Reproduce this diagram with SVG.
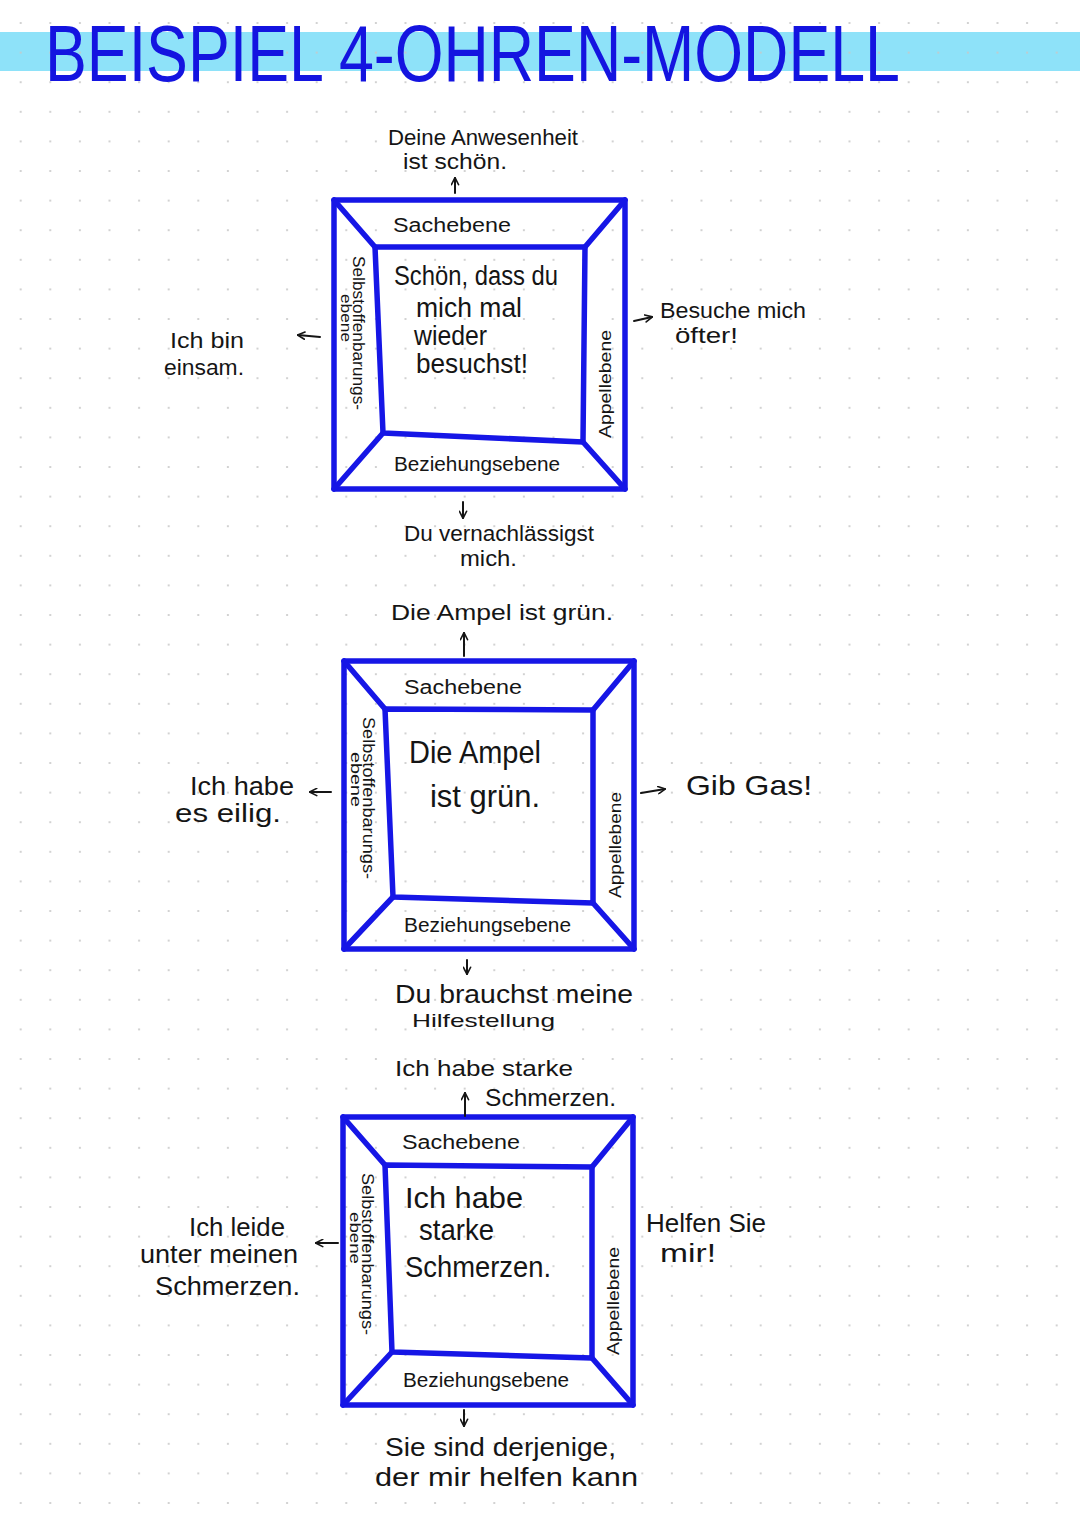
<svg xmlns="http://www.w3.org/2000/svg" width="1080" height="1525" viewBox="0 0 1080 1525">
  <style>
    .t { font-family: "Liberation Sans", Arial, sans-serif; fill: #151515; }
    .lvl { font-size: 20px; }
    .side { font-size: 16px; }
    .side2 { font-size: 14px; }
    .mid { font-size: 27px; }
    .note { font-size: 22px; }
    .frame { fill: none; stroke: #1616e6; stroke-width: 5.5; stroke-linejoin: round; stroke-linecap: round; }
    .conn { fill: none; stroke: #151515; stroke-width: 2; stroke-linecap: round; }
  </style>
  <defs>
    <pattern id="dots" patternUnits="userSpaceOnUse" x="5.9" y="8.2" width="29.6" height="29.6">
      <circle cx="14.8" cy="14.8" r="1.1" fill="#c8c8c8"/>
    </pattern>
    <marker id="arr" viewBox="0 0 10 10" refX="8.5" refY="5" markerWidth="9" markerHeight="9" markerUnits="userSpaceOnUse" orient="auto">
      <path d="M1,1 L9,5 L1,9" fill="none" stroke="#151515" stroke-width="1.8" stroke-linecap="round" stroke-linejoin="round"/>
    </marker>
  </defs>

  <rect x="0" y="0" width="1080" height="1525" fill="#ffffff"/>
  <rect x="0" y="32" width="1080" height="39" fill="#8ee2f9"/>
  <rect x="0" y="0" width="1080" height="1525" fill="url(#dots)"/>

  <g id="title">
    <text x="45" y="81" font-family="Liberation Sans, Arial, sans-serif" font-size="80" fill="#1414e0" textLength="855" lengthAdjust="spacingAndGlyphs">BEISPIEL 4-OHREN-MODELL</text>
  </g>

  <!-- Box 1 -->
  <g id="box1">
    <rect class="frame" x="334" y="200" width="291" height="289"/>
    <path class="frame" d="M375,247 L585,247 L583,442 L383,433 Z"/>
    <path class="frame" d="M334,200 L375,247 M625,200 L585,247 M625,489 L583,442 M334,489 L383,433"/>
    <text class="t lvl" x="393" y="232" textLength="118" lengthAdjust="spacingAndGlyphs">Sachebene</text>
    <text class="t lvl" x="394" y="471" textLength="166" lengthAdjust="spacingAndGlyphs">Beziehungsebene</text>
    <text class="t side" transform="translate(353,256) rotate(90)" textLength="154" lengthAdjust="spacingAndGlyphs">Selbstoffenbarungs-</text>
    <text class="t side2" transform="translate(341,294) rotate(90)" textLength="48" lengthAdjust="spacingAndGlyphs">ebene</text>
    <text class="t side" transform="translate(611,438) rotate(-90)" textLength="108" lengthAdjust="spacingAndGlyphs">Appellebene</text>
    <text class="t mid" x="394" y="285" textLength="164" lengthAdjust="spacingAndGlyphs">Schön, dass du</text>
    <text class="t mid" x="416" y="317" textLength="106" lengthAdjust="spacingAndGlyphs">mich mal</text>
    <text class="t mid" x="414" y="345" textLength="73" lengthAdjust="spacingAndGlyphs">wieder</text>
    <text class="t mid" x="416" y="373" textLength="112" lengthAdjust="spacingAndGlyphs">besuchst!</text>
  </g>
  <g id="box1-top">
    <text class="t note" x="388" y="145" textLength="190" lengthAdjust="spacingAndGlyphs">Deine Anwesenheit</text>
    <text class="t note" x="403" y="169" textLength="104" lengthAdjust="spacingAndGlyphs">ist schön.</text>
  </g>
  <g id="box1-left">
    <text class="t note" x="170" y="348" textLength="74" lengthAdjust="spacingAndGlyphs">Ich bin</text>
    <text class="t note" x="164" y="375" textLength="80" lengthAdjust="spacingAndGlyphs">einsam.</text>
  </g>
  <g id="box1-right">
    <text class="t note" x="660" y="318" textLength="146" lengthAdjust="spacingAndGlyphs">Besuche mich</text>
    <text class="t note" x="675" y="343" textLength="63" lengthAdjust="spacingAndGlyphs">öfter!</text>
  </g>
  <g id="box1-bottom">
    <text class="t note" x="404" y="541" textLength="190" lengthAdjust="spacingAndGlyphs">Du vernachlässigst</text>
    <text class="t note" x="460" y="566" textLength="57" lengthAdjust="spacingAndGlyphs">mich.</text>
  </g>

  <!-- Box 2 -->
  <g id="box2">
    <rect class="frame" x="344" y="661" width="290" height="288"/>
    <path class="frame" d="M385,709 L593,710 L593,903 L393,897 Z"/>
    <path class="frame" d="M344,661 L385,709 M634,661 L593,710 M634,949 L593,903 M344,949 L393,897"/>
    <text class="t lvl" x="404" y="694" textLength="118" lengthAdjust="spacingAndGlyphs">Sachebene</text>
    <text class="t lvl" x="404" y="932" textLength="167" lengthAdjust="spacingAndGlyphs">Beziehungsebene</text>
    <text class="t side" transform="translate(363,717) rotate(90)" textLength="162" lengthAdjust="spacingAndGlyphs">Selbstoffenbarungs-</text>
    <text class="t side2" transform="translate(351,752) rotate(90)" textLength="55" lengthAdjust="spacingAndGlyphs">ebene</text>
    <text class="t side" transform="translate(621,898) rotate(-90)" textLength="106" lengthAdjust="spacingAndGlyphs">Appellebene</text>
    <text class="t" x="409" y="763" font-size="32" textLength="132" lengthAdjust="spacingAndGlyphs">Die Ampel</text>
    <text class="t" x="430" y="807" font-size="32" textLength="110" lengthAdjust="spacingAndGlyphs">ist grün.</text>
  </g>
  <g id="box2-top">
    <text class="t note" x="391" y="620" textLength="222" lengthAdjust="spacingAndGlyphs">Die Ampel ist grün.</text>
  </g>
  <g id="box2-left">
    <text class="t" x="190" y="795" font-size="25" textLength="104" lengthAdjust="spacingAndGlyphs">Ich habe</text>
    <text class="t" x="175" y="822" font-size="25" textLength="106" lengthAdjust="spacingAndGlyphs">es eilig.</text>
  </g>
  <g id="box2-right">
    <text class="t" x="686" y="795" font-size="28" textLength="126" lengthAdjust="spacingAndGlyphs">Gib Gas!</text>
  </g>
  <g id="box2-bottom">
    <text class="t" x="395" y="1003" font-size="25" textLength="238" lengthAdjust="spacingAndGlyphs">Du brauchst meine</text>
    <text class="t" x="412" y="1027" font-size="19" textLength="143" lengthAdjust="spacingAndGlyphs">Hilfestellung</text>
  </g>

  <!-- Box 3 -->
  <g id="box3">
    <rect class="frame" x="343" y="1117" width="290" height="288"/>
    <path class="frame" d="M385,1165 L592,1167 L592,1358 L392,1352 Z"/>
    <path class="frame" d="M343,1117 L385,1165 M633,1117 L592,1167 M633,1405 L592,1358 M343,1405 L392,1352"/>
    <text class="t lvl" x="402" y="1149" textLength="118" lengthAdjust="spacingAndGlyphs">Sachebene</text>
    <text class="t lvl" x="403" y="1387" textLength="166" lengthAdjust="spacingAndGlyphs">Beziehungsebene</text>
    <text class="t side" transform="translate(362,1173) rotate(90)" textLength="162" lengthAdjust="spacingAndGlyphs">Selbstoffenbarungs-</text>
    <text class="t side2" transform="translate(350,1212) rotate(90)" textLength="52" lengthAdjust="spacingAndGlyphs">ebene</text>
    <text class="t side" transform="translate(619,1355) rotate(-90)" textLength="108" lengthAdjust="spacingAndGlyphs">Appellebene</text>
    <text class="t" x="405" y="1208" font-size="30" textLength="118" lengthAdjust="spacingAndGlyphs">Ich habe</text>
    <text class="t" x="419" y="1240" font-size="30" textLength="75" lengthAdjust="spacingAndGlyphs">starke</text>
    <text class="t" x="405" y="1277" font-size="30" textLength="146" lengthAdjust="spacingAndGlyphs">Schmerzen.</text>
  </g>
  <g id="box3-top">
    <text class="t note" x="395" y="1076" textLength="178" lengthAdjust="spacingAndGlyphs">Ich habe starke</text>
    <text class="t" x="485" y="1106" font-size="24" textLength="131" lengthAdjust="spacingAndGlyphs">Schmerzen.</text>
  </g>
  <g id="box3-left">
    <text class="t" x="189" y="1236" font-size="25" textLength="96" lengthAdjust="spacingAndGlyphs">Ich leide</text>
    <text class="t" x="140" y="1263" font-size="25" textLength="158" lengthAdjust="spacingAndGlyphs">unter meinen</text>
    <text class="t" x="155" y="1295" font-size="25" textLength="145" lengthAdjust="spacingAndGlyphs">Schmerzen.</text>
  </g>
  <g id="box3-right">
    <text class="t" x="646" y="1232" font-size="26" textLength="120" lengthAdjust="spacingAndGlyphs">Helfen Sie</text>
    <text class="t" x="660" y="1262" font-size="26" textLength="56" lengthAdjust="spacingAndGlyphs">mir!</text>
  </g>
  <g id="box3-bottom">
    <text class="t" x="385" y="1456" font-size="25" textLength="231" lengthAdjust="spacingAndGlyphs">Sie sind derjenige,</text>
    <text class="t" x="375" y="1486" font-size="25" textLength="263" lengthAdjust="spacingAndGlyphs">der mir helfen kann</text>
  </g>

  <g id="connectors">
    <path class="conn" d="M455,193 L455,178" marker-end="url(#arr)"/>
    <path class="conn" d="M320,337 L298,335" marker-end="url(#arr)"/>
    <path class="conn" d="M634,321 L652,317" marker-end="url(#arr)"/>
    <path class="conn" d="M463,502 L463,518" marker-end="url(#arr)"/>
    <path class="conn" d="M464,656 L464,633" marker-end="url(#arr)"/>
    <path class="conn" d="M331,792 L310,792" marker-end="url(#arr)"/>
    <path class="conn" d="M641,793 L665,789" marker-end="url(#arr)"/>
    <path class="conn" d="M467,960 L467,974" marker-end="url(#arr)"/>
    <path class="conn" d="M465,1116 L465,1093" marker-end="url(#arr)"/>
    <path class="conn" d="M338,1243 L316,1243" marker-end="url(#arr)"/>
    <path class="conn" d="M464,1410 L464,1426" marker-end="url(#arr)"/>
  </g>
</svg>
